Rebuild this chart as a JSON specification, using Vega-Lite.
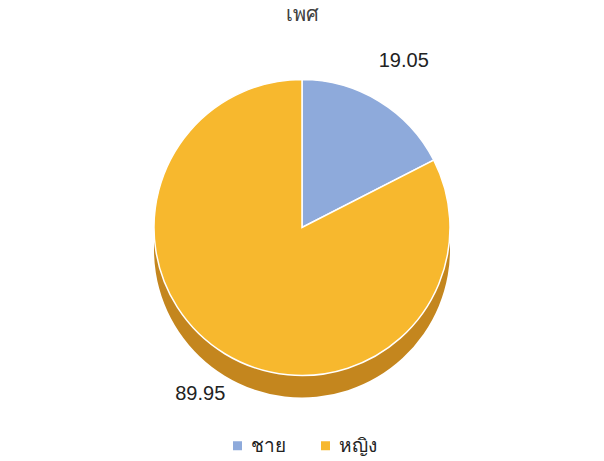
{
  "$schema": "https://vega.github.io/schema/vega-lite/v6.json",
  "width": 604,
  "height": 461,
  "autosize": {"type": "fit", "contains": "padding"},
  "background": "white",
  "config": {"view": {"stroke": null}, "legend": {"layout": {"bottom": {"anchor": "middle"}}}},
  "title": {"text": "เพศ", "fontSize": 20, "fontWeight": "normal", "color": "#404040", "offset": 12},
  "data": {"values": [
    {"gender": "ชาย", "value": 19.05},
    {"gender": "หญิง", "value": 89.95}
  ]},
  "layer": [
    {
      "mark": {"type": "arc", "outerRadius": 148, "yOffset": 22, "color": "#c4861e"},
      "encoding": {
        "theta": {"field": "value", "type": "quantitative", "stack": true}
      }
    },
    {
      "mark": {"type": "arc", "outerRadius": 148, "stroke": "white", "strokeWidth": 1.5},
      "encoding": {
        "theta": {"field": "value", "type": "quantitative", "stack": true},
        "color": {
          "field": "gender", "type": "nominal",
          "scale": {"domain": ["ชาย", "หญิง"], "range": ["#8eaadb", "#f7b82e"]},
          "legend": {"orient": "bottom", "direction": "horizontal", "title": null, "symbolType": "square", "symbolSize": 110, "labelFontSize": 19, "labelColor": "#222222", "columnPadding": 30}
        },
        "order": {"field": "gender"}
      }
    },
    {
      "mark": {"type": "text", "radius": 195, "fontSize": 20, "color": "#222222"},
      "encoding": {
        "theta": {"field": "value", "type": "quantitative", "stack": true},
        "text": {"field": "value", "type": "quantitative", "format": ".2f"},
        "order": {"field": "gender"}
      }
    }
  ]
}
